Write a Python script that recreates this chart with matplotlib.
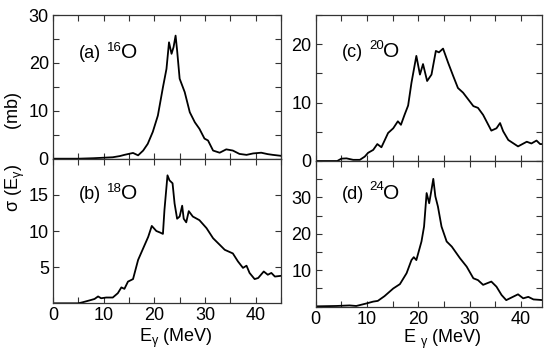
import numpy as np
import matplotlib
matplotlib.use("Agg")
import matplotlib.pyplot as plt

plt.rcParams['font.family'] = ['Liberation Sans', 'DejaVu Sans']
plt.rcParams['mathtext.fontset'] = 'custom'
plt.rcParams['mathtext.rm'] = 'Liberation Sans'
plt.rcParams['mathtext.it'] = 'Liberation Sans'
plt.rcParams['mathtext.default'] = 'regular'

# (a) 16O
e_a = [0, 5, 8, 11.8, 13.2, 14.1, 15.8, 16.8, 17.8, 18.7, 19.7, 20.7, 21.7, 22.4,
       22.9, 23.4, 23.8, 24.2, 24.5, 25.0, 26.0, 27.0, 28.0, 28.9, 29.9, 30.6,
       31.6, 32.9, 34.2, 35.5, 36.8, 38.2, 39.5, 41.1, 42.4, 43.4, 45]
s_a = [0, 0, 0.1, 0.3, 0.55, 0.8, 1.2, 0.7, 1.7, 3.1, 5.6, 9.0, 14.9, 18.75,
       24.3, 21.9, 23.3, 25.7, 22.6, 16.7, 13.9, 9.7, 7.6, 6.25, 4.2, 3.8,
       1.7, 1.25, 1.95, 1.7, 1.0, 0.8, 1.1, 1.25, 0.95, 0.8, 0.6]

# (b) 18O
e_b = [0, 5, 5.9, 7.2, 8.2, 8.9, 9.5, 10.5, 11.8, 12.8, 13.5, 14.1, 14.8, 15.8,
       16.8, 17.8, 18.8, 19.5, 20.4, 21.1, 21.7, 22.0, 22.6, 23.0, 23.6, 24.0,
       24.5, 25.0, 25.5, 25.8, 26.3, 26.8, 27.6, 28.9, 30.3, 31.6, 32.9, 33.9,
       35.5, 36.5, 37.5, 38.2, 38.8, 39.8, 40.5, 41.6, 42.4, 43.1, 43.8, 45]
s_b = [0, 0, 0.15, 0.4, 0.6, 0.95, 0.7, 0.8, 0.8, 1.4, 2.2, 2.0, 3.0, 3.35,
       6.0, 7.6, 9.2, 10.7, 10.0, 9.8, 9.6, 12.9, 17.7, 17.0, 16.6, 13.8,
       11.7, 12.0, 13.5, 11.7, 11.2, 12.75, 12.0, 11.5, 10.4, 9.0, 8.1, 7.4,
       6.9, 5.8, 4.9, 5.2, 4.2, 3.35, 3.5, 4.4, 3.95, 4.2, 3.7, 3.8]

# (c) 20O
e_c = [0, 4.2, 5.0, 6.0, 7.3, 8.6, 9.55, 10.2, 11.2, 12.0, 12.8, 14.1, 15.1,
       16.0, 16.6, 17.3, 18.0, 18.65, 19.6, 20.3, 20.9, 21.7, 22.55, 23.4, 24.0,
       24.8, 25.8, 26.8, 27.7, 28.7, 30.7, 31.6, 32.6, 34.2, 35.2, 35.9, 36.5,
       37.5, 39.4, 41.1, 42.0, 43.0, 43.7, 44.3]
s_c = [0, 0, 0.4, 0.45, 0.2, 0.2, 0.75, 1.4, 1.9, 2.9, 2.35, 4.8, 5.6,
       6.8, 6.2, 7.9, 9.5, 13.4, 18.0, 14.8, 16.6, 13.7, 14.8, 18.85, 18.6,
       19.25, 16.8, 14.5, 12.5, 11.7, 9.4, 9.1, 7.9, 5.2, 5.6, 6.5, 5.1,
       3.6, 2.5, 3.3, 3.0, 3.5, 2.9, 2.9]

# (d) 24O
e_d = [0, 4.0, 6.6, 7.9, 9.9, 11.2, 12.1, 13.4, 15.1, 16.4, 17.7, 18.65, 19.1,
       19.6, 20.6, 21.1, 21.6, 22.1, 22.55, 22.9, 23.3, 23.8, 24.5, 25.5, 26.5,
       28.1, 29.4, 30.7, 31.6, 32.6, 34.2, 35.2, 36.2, 37.1, 38.1, 39.4, 40.4,
       41.4, 42.4, 43.4, 44.3]
s_d = [0.1, 0.2, 0.35, 0.2, 0.9, 1.4, 1.6, 2.9, 5.0, 6.2, 9.2, 12.8, 13.6,
       12.8, 17.9, 22.0, 31.2, 28.4, 32.1, 35.1, 30.3, 27.5, 22.0, 17.9, 16.5,
       13.3, 11.0, 7.8, 7.3, 6.0, 6.9, 5.5, 3.2, 1.8, 2.5, 3.4, 2.3,
       2.7, 2.0, 1.9, 1.8]

fig = plt.figure(figsize=(5.44, 3.54), dpi=100)

panels = [
    # rect, x, y, xmax, ylim, yticks, yminor, tag, mass, label baselines
    ([0.0974, 0.5517, 0.4191, 0.4059], e_a, s_a, 45, (0, 30), [0, 10, 20, 30], 5, '(a)', '16', 0.70, 0.75),
    ([0.0974, 0.1432, 0.4191, 0.4085], e_b, s_b, 45, (0, 20), [5, 10, 15], None, '(b)', '18', 0.72, 0.77),
    ([0.5803, 0.5452, 0.4154, 0.4124], e_c, s_c, 44, (0, 25), [0, 10, 20], 5, '(c)', '20', 0.71, 0.77),
    ([0.5803, 0.1336, 0.4154, 0.4116], e_d, s_d, 44, (0, 40), [10, 20, 30], 5, '(d)', '24', 0.74, 0.80),
]

for i, (rect, x, y, xmax, ylim, yt, ymin, tag, mass, yb, ys) in enumerate(panels):
    ax = fig.add_axes(rect)
    ax.plot(x, y, color='black', lw=1.3)
    ax.set_xlim(0, xmax)
    ax.set_ylim(*ylim)
    xt = np.arange(0, xmax + 0.1, 5)
    ax.set_xticks(xt)
    if i % 2 == 1:
        ax.set_xticklabels(['%d' % v if v % 10 == 0 else '' for v in xt])
    else:
        ax.set_xticklabels([])
    ax.set_yticks(yt)
    if ymin:
        ax.set_yticks(np.arange(ylim[0], ylim[1] + 0.1, ymin), minor=True)
    ax.tick_params(which='both', direction='in', top=True, right=True,
                   length=4, width=0.8, color='#333333', labelsize=13, pad=3)
    for sp in ax.spines.values():
        sp.set_color('#333333')
        sp.set_linewidth(0.9)
    ax.text(0.114, yb, tag, transform=ax.transAxes, fontsize=13, va='baseline')
    ax.text(0.238, ys, mass, transform=ax.transAxes, fontsize=9.5, va='baseline')
    ax.text(0.297, yb, 'O', transform=ax.transAxes, fontsize=15, va='baseline')

fig.text(0.029, 0.571, r'$\sigma$ (E$_{\gamma}$)       (mb)', rotation=90,
         fontsize=13, ha='center', va='center')
fig.text(0.3235, 0.045, r'E$_{\gamma}$ (MeV)', fontsize=13, ha='center', va='center')
fig.text(0.814, 0.040, r'E $_{\gamma}$ (MeV)', fontsize=13, ha='center', va='center')

fig.savefig('out.png', dpi=100)
